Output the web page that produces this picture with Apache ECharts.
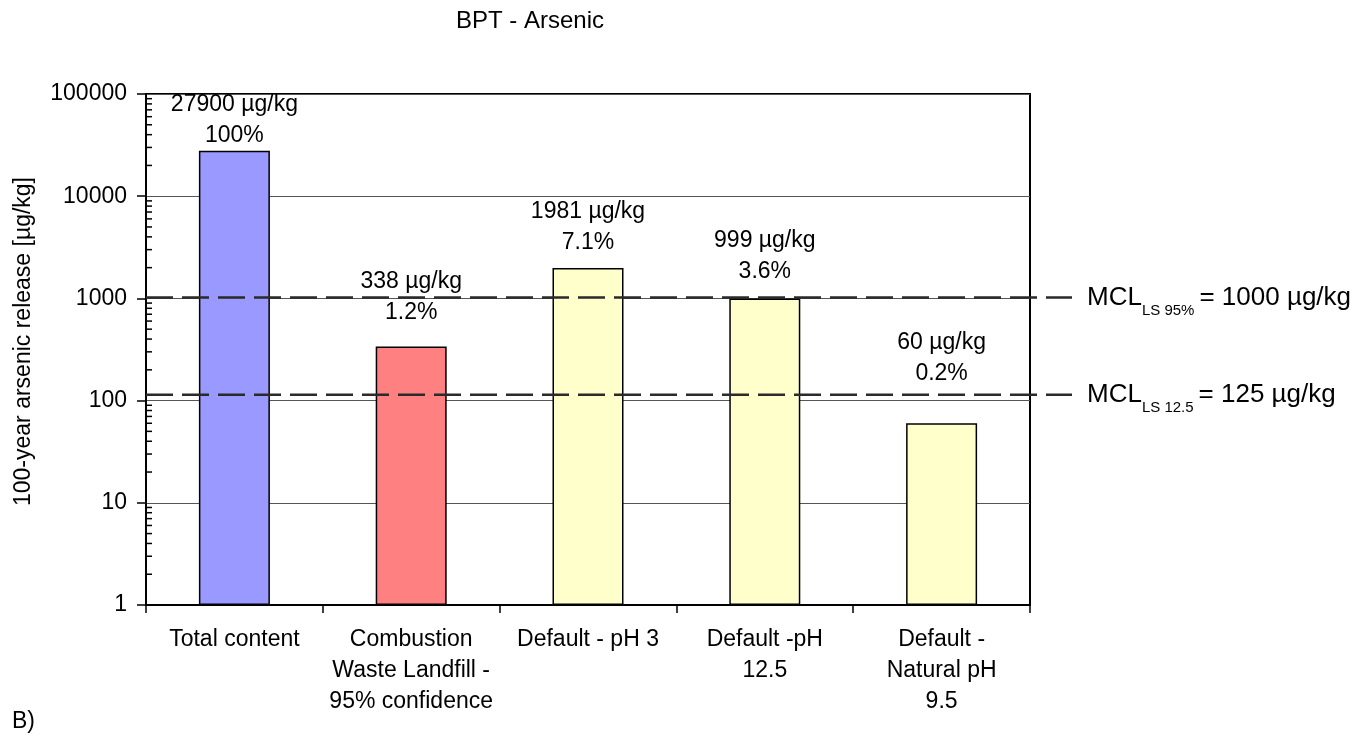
<!DOCTYPE html>
<html>
<head>
<meta charset="utf-8">
<script src="https://cdn.jsdelivr.net/npm/echarts@6/dist/echarts.min.js"></script>
<style>
html,body{margin:0;padding:0;background:#fff;}
#chart{width:1368px;height:738px;}
</style>
</head>
<body>
<div id="chart"></div>
<script>
// ---- data ----
const categories = ['Total content', 'Combustion\nWaste Landfill -\n95% confidence', 'Default - pH 3', 'Default -pH\n12.5', 'Default -\nNatural pH\n9.5'];
const releaseValues = [27900, 338, 1981, 999, 60];
const percentLabels = ['100%', '1.2%', '7.1%', '3.6%', '0.2%'];
const mclLevels = [1020, 114];            // drawn positions of the dashed limit lines
const mclNames = ['LS 95%', 'LS 12.5'];
const mclTexts = ['= 1000 µg/kg', '= 125 µg/kg'];
const minorMultipliers = [2, 3, 4, 5, 6, 7, 8, 9];
const decades = [1, 10, 100, 1000, 10000];

// ---- styles ----
const barColors = ['#9999FF', '#FF8080', '#FFFFCC', '#FFFFCC', '#FFFFCC'];
const labelGaps = [0, 18, 10, 11, 34];
const FONT = 'Liberation Sans, Arial, sans-serif';

const minorTicks = [];
decades.forEach(d => minorMultipliers.forEach(m => minorTicks.push([0, d * m])));

const chart = echarts.init(document.getElementById('chart'));
const option = {
  animation: false,
  backgroundColor: '#fff',
  textStyle: { fontFamily: FONT, color: '#000' },
  grid: [
    { left: 146, right: 338, top: 94, bottom: 133, show: true, borderColor: '#000', borderWidth: 2, backgroundColor: 'transparent' },
    { left: 146, right: 296, top: 94, bottom: 133, show: false }
  ],
  xAxis: [
    {
      type: 'category', gridIndex: 0, data: categories,
      axisLine: { lineStyle: { color: '#000', width: 2 } },
      axisTick: { show: true, length: 8, lineStyle: { color: '#000', width: 1.5 } },
      axisLabel: { fontFamily: FONT, fontSize: 23, color: '#000', lineHeight: 31, margin: 19, interval: 0 }
    },
    { type: 'value', gridIndex: 1, min: 0, max: 1, show: false }
  ],
  yAxis: [
    {
      type: 'log', gridIndex: 0, min: 1, max: 100000, logBase: 10,
      name: '100-year arsenic release [µg/kg]', nameLocation: 'middle', nameGap: 111,
      nameTextStyle: { fontFamily: FONT, fontSize: 23, color: '#000', padding: [0, 0, 0, 16] },
      axisLine: { show: true, lineStyle: { color: '#000', width: 2 } },
      axisTick: { show: true, length: 9, lineStyle: { color: '#000', width: 1.5 } },
      axisLabel: { fontFamily: FONT, fontSize: 23, color: '#000', margin: 19, formatter: v => String(v) },
      minorTick: { show: false },
      splitLine: { show: true, lineStyle: { color: '#555', width: 1 } }
    },
    { type: 'log', gridIndex: 1, min: 1, max: 100000, logBase: 10, show: false }
  ],
  graphic: [
    { type: 'text', x: 530, y: 21, style: { text: 'BPT - Arsenic', font: '24px ' + FONT, fill: '#000', textAlign: 'center', textVerticalAlign: 'middle' } },
    { type: 'text', x: 12, y: 722, style: { text: 'B)', font: '23px ' + FONT, fill: '#000', textAlign: 'left', textVerticalAlign: 'middle' } }
  ],
  series: [
    {
      type: 'bar', xAxisIndex: 0, yAxisIndex: 0, barWidth: 71, z: 2,
      data: releaseValues.map((v, i) => ({
        value: v,
        itemStyle: { color: barColors[i], borderColor: '#000', borderWidth: 1.5 },
        label: { distance: labelGaps[i] }
      })),
      label: {
        show: true, position: 'top', fontFamily: FONT, fontSize: 23, color: '#000', lineHeight: 31, align: 'center',
        formatter: p => p.value + ' µg/kg\n' + percentLabels[p.dataIndex]
      }
    },
    {
      type: 'custom', xAxisIndex: 0, yAxisIndex: 0, z: 5, silent: true,
      encode: { x: 0, y: 1 },
      data: minorTicks,
      renderItem: (params, api) => {
        const y = api.coord([0, api.value(1)])[1];
        const x = params.coordSys.x;
        return { type: 'line', shape: { x1: x, y1: y, x2: x + 6, y2: y }, style: { stroke: '#000', lineWidth: 1.5 } };
      }
    }
  ].concat(mclLevels.map((lvl, i) => ({
    type: 'line', xAxisIndex: 1, yAxisIndex: 1, z: 10, silent: true, symbol: 'none',
    data: [[0, lvl], [1, lvl]],
    lineStyle: { color: '#2a2a2a', width: 2.5, type: [27, 9] },
    endLabel: {
      show: true, distance: 15,
      formatter: () => '{m|MCL}{s|' + mclNames[i] + '}{m|' + mclTexts[i] + '}',
      rich: {
        m: { fontFamily: FONT, fontSize: 26, color: '#000' },
        s: { fontFamily: FONT, fontSize: 15, color: '#000', padding: [26, 5, 0, 0] }
      }
    }
  })))
};
chart.setOption(option);
</script>
</body>
</html>
